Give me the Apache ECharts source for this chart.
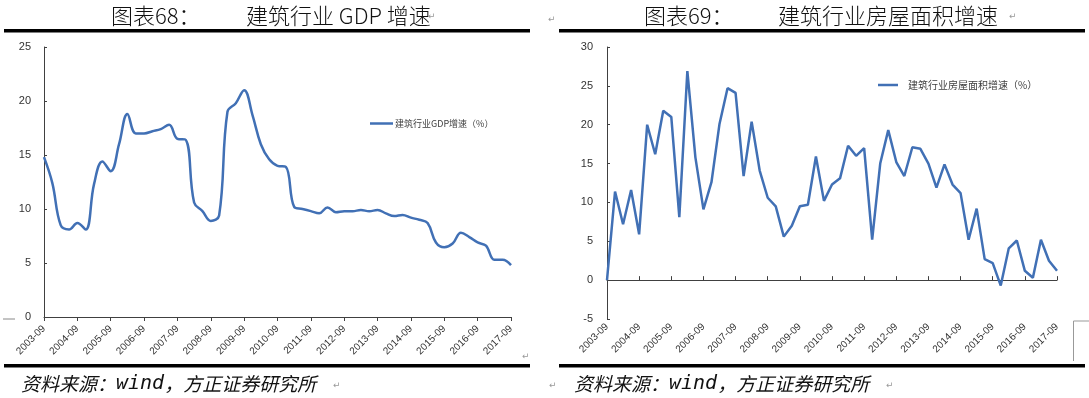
<!DOCTYPE html>
<html>
<head>
<meta charset="utf-8">
<script src="https://cdn.jsdelivr.net/npm/echarts@6/dist/echarts.min.js"></script>
<style>
  html, body { margin: 0; padding: 0; background: #fff; }
  #main { width: 1089px; height: 398px; }
</style>
</head>
<body>
<div id="main"></div>
<script>
// quarterly categories, 2003-09 .. 2017-09
var quarters = [
  '2003-09','2003-12','2004-03','2004-06','2004-09','2004-12','2005-03','2005-06',
  '2005-09','2005-12','2006-03','2006-06','2006-09','2006-12','2007-03','2007-06',
  '2007-09','2007-12','2008-03','2008-06','2008-09','2008-12','2009-03','2009-06',
  '2009-09','2009-12','2010-03','2010-06','2010-09','2010-12','2011-03','2011-06',
  '2011-09','2011-12','2012-03','2012-06','2012-09','2012-12','2013-03','2013-06',
  '2013-09','2013-12','2014-03','2014-06','2014-09','2014-12','2015-03','2015-06',
  '2015-09','2015-12','2016-03','2016-06','2016-09','2016-12','2017-03','2017-06',
  '2017-09'
];

// 图表68 建筑行业GDP增速(%)
var gdpGrowth = [
  14.8, 12.4, 8.5, 8.1, 8.7, 8.1, 12.3, 14.4,
  13.5, 16.0, 18.8, 17.0, 17.0, 17.2, 17.4, 17.8,
  16.5, 16.4, 10.6, 9.8, 8.9, 9.4, 19.0, 19.8,
  21.0, 18.7, 16.0, 14.6, 14.0, 13.9, 10.2, 10.0,
  9.8, 9.6, 10.15, 9.7, 9.8, 9.8, 9.9, 9.8,
  9.9, 9.6, 9.35, 9.45, 9.2, 9.0, 8.7, 6.9,
  6.45, 6.8, 7.8, 7.4, 6.9, 6.6, 5.3, 5.3,
  4.8
];

// 图表69 建筑行业房屋面积增速(%)
var areaGrowth = [
  0.0, 11.4, 7.2, 11.6, 5.9, 20.0, 16.2, 21.8,
  21.0, 8.1, 26.9, 15.8, 9.1, 12.6, 20.1, 24.7,
  24.1, 13.4, 20.4, 14.1, 10.6, 9.5, 5.6, 7.0,
  9.5, 9.7, 15.9, 10.2, 12.3, 13.1, 17.3, 16.0,
  17.0, 5.2, 15.0, 19.3, 15.2, 13.4, 17.1, 16.9,
  15.0, 11.9, 14.9, 12.3, 11.2, 5.2, 9.2, 2.7,
  2.2, -0.7, 4.1, 5.1, 1.2, 0.3, 5.2, 2.5,
  1.2
];

var gdpName = '建筑行业GDP增速（%）';
var areaName = '建筑行业房屋面积增速（%）';

var axisColor = '#404040';
var lineColor = '#4170b5';
var cjk = "'Noto Sans CJK SC', sans-serif";
var latin = "'Liberation Sans', Arial, sans-serif";

var chart = echarts.init(document.getElementById('main'));

var xLabel = {
  interval: 3,
  rotate: 45,
  fontSize: 10,
  color: '#333',
  fontFamily: latin
};

// source line: CJK italic with a wide mono "wind"
function sourceText(x) {
  return {
    type: 'text', left: x, top: 374,
    style: {
      text: '{a|资料来源：}{b|wind}{a|，方正证券研究所}',
      rich: {
        a: { fontSize: 19, fontStyle: 'italic', fontFamily: cjk, fill: '#111' },
        b: { fontSize: 20, fontStyle: 'italic', fontFamily: "'DejaVu Sans Mono', monospace", fill: '#111' }
      }
    }
  };
}

var option = {
  animation: false,
  backgroundColor: '#fff',
  grid: [
    { left: 44, top: 47, width: 467, height: 270 },
    { left: 607, top: 47, width: 450, height: 272 }
  ],
  legend: [
    {
      data: [gdpName], left: 365, top: 114,
      icon: 'rect', itemWidth: 23, itemHeight: 2.5,
      textStyle: { fontSize: 9, color: '#404040', fontFamily: cjk, padding: [0, 0, 0, -3] }
    },
    {
      data: [areaName], left: 873, top: 75,
      icon: 'rect', itemWidth: 20, itemHeight: 2.5,
      textStyle: { fontSize: 10, color: '#404040', fontFamily: cjk, padding: [0, 0, 0, 5] }
    }
  ],
  xAxis: [
    {
      gridIndex: 0, type: 'category', data: quarters, boundaryGap: false,
      axisLine: { lineStyle: { color: axisColor, width: 1 } },
      axisTick: { interval: 3, length: 4, lineStyle: { color: axisColor } },
      axisLabel: Object.assign({ margin: 10 }, xLabel)
    },
    {
      gridIndex: 1, type: 'category', data: quarters, boundaryGap: false,
      axisLine: { onZero: true, lineStyle: { color: axisColor, width: 1 } },
      axisTick: { interval: 3, inside: true, length: 4, lineStyle: { color: axisColor } },
      axisLabel: { show: false }
    },
    {
      gridIndex: 1, type: 'category', data: quarters, boundaryGap: false, position: 'bottom',
      axisLine: { show: false, onZero: false },
      axisTick: { show: false },
      axisLabel: Object.assign({ margin: 6 }, xLabel)
    }
  ],
  yAxis: [
    {
      gridIndex: 0, type: 'value', min: 0, max: 25, interval: 5,
      splitLine: { show: false },
      axisLine: { show: true, lineStyle: { color: axisColor } },
      axisTick: { show: true, inside: true, length: 3, lineStyle: { color: axisColor } },
      axisLabel: { fontSize: 11, color: '#333', margin: 13, fontFamily: latin }
    },
    {
      gridIndex: 1, type: 'value', min: -5, max: 30, interval: 5,
      splitLine: { show: false },
      axisLine: { show: true, onZero: false, lineStyle: { color: axisColor } },
      axisTick: { show: true, inside: true, length: 3, lineStyle: { color: axisColor } },
      axisLabel: { fontSize: 11, color: '#333', margin: 14, fontFamily: latin }
    }
  ],
  series: [
    {
      name: gdpName, type: 'line', xAxisIndex: 0, yAxisIndex: 0,
      data: gdpGrowth, smooth: 0.4, showSymbol: false,
      lineStyle: { color: lineColor, width: 2.5 },
      itemStyle: { color: lineColor }
    },
    {
      name: areaName, type: 'line', xAxisIndex: 1, yAxisIndex: 1,
      data: areaGrowth, smooth: false, showSymbol: false,
      lineStyle: { color: lineColor, width: 2.5 },
      itemStyle: { color: lineColor }
    }
  ],
  graphic: [
    // titles
    { type: 'text', left: 111, top: 5, style: { text: '图表68：', font: '300 22px ' + cjk, fill: '#111' } },
    { type: 'text', left: 246, top: 5, style: { text: '建筑行业 GDP 增速', font: '300 22px ' + cjk, fill: '#111' } },
    { type: 'text', left: 428, top: 12, style: { text: '↵', font: '9px DejaVu Sans', fill: '#999' } },
    { type: 'text', left: 644, top: 5, style: { text: '图表69：', font: '300 22px ' + cjk, fill: '#111' } },
    { type: 'text', left: 778, top: 5, style: { text: '建筑行业房屋面积增速', font: '300 22px ' + cjk, fill: '#111' } },
    { type: 'text', left: 1009, top: 12, style: { text: '↵', font: '9px DejaVu Sans', fill: '#999' } },
    { type: 'text', left: 548, top: 15, style: { text: '↵', font: '9px DejaVu Sans', fill: '#999' } },
    // thick rules
    { type: 'rect', shape: { x: 4, y: 29, width: 526, height: 3.5 }, style: { fill: '#000' } },
    { type: 'rect', shape: { x: 559, y: 29, width: 526, height: 3.5 }, style: { fill: '#000' } },
    { type: 'rect', shape: { x: 4, y: 364, width: 526, height: 3.5 }, style: { fill: '#000' } },
    { type: 'rect', shape: { x: 559, y: 364, width: 526, height: 3.5 }, style: { fill: '#000' } },
    // sources
    sourceText(21),
    sourceText(574),
    { type: 'text', left: 333, top: 381, style: { text: '↵', font: '9px DejaVu Sans', fill: '#999' } },
    { type: 'text', left: 886, top: 381, style: { text: '↵', font: '9px DejaVu Sans', fill: '#999' } },
    { type: 'text', left: 549, top: 381, style: { text: '↵', font: '9px DejaVu Sans', fill: '#999' } },
    { type: 'text', left: 522, top: 352, style: { text: '↵', font: '9px DejaVu Sans', fill: '#999' } },
    // small marks
    { type: 'line', shape: { x1: 3, y1: 319, x2: 15, y2: 319 }, style: { stroke: '#888', lineWidth: 1 } },
    { type: 'polyline', shape: { points: [[1089, 321], [1073.5, 321], [1073.5, 361]] }, style: { stroke: '#999', lineWidth: 1, fill: null } }
  ]
};

chart.setOption(option);
</script>
</body>
</html>
